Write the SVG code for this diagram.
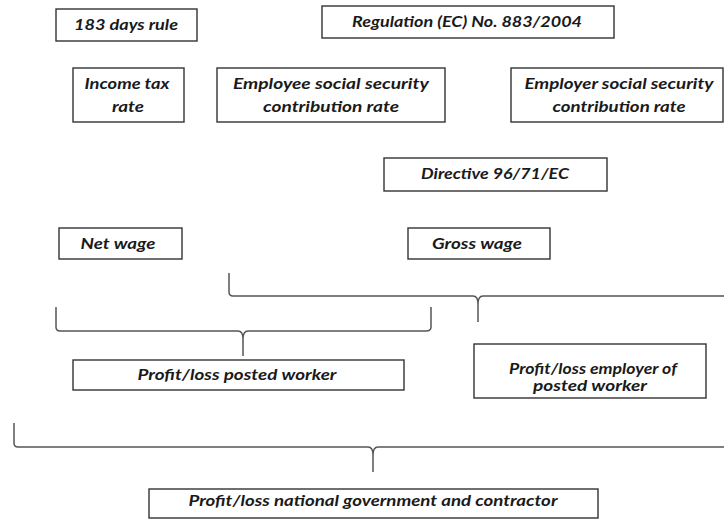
<svg xmlns="http://www.w3.org/2000/svg" width="724" height="519" viewBox="0 0 724 519">
<style>
.box{fill:#fff;stroke:#333;stroke-width:1.4}
.t{font-family:Lato,"Noto Sans","Liberation Sans",sans-serif;font-weight:bold;font-style:italic;font-size:15px;fill:#1a1a1a;text-anchor:middle}
.br{fill:none;stroke:#555;stroke-width:1.5}
</style>
<rect width="724" height="519" fill="#fff"/>
<g id="n183"><rect class="box" x="56" y="9" width="141" height="32"/><text class="t" x="126" y="30" textLength="104" lengthAdjust="spacingAndGlyphs">183 days rule</text></g>
<g id="regulation"><rect class="box" x="322" y="6" width="292" height="32"/><text class="t" x="467" y="27" textLength="230" lengthAdjust="spacingAndGlyphs">Regulation (EC) No. 883/2004</text></g>
<g id="income"><rect class="box" x="73" y="68" width="111" height="54"/><text class="t" x="127" y="89" textLength="85" lengthAdjust="spacingAndGlyphs">Income tax</text><text class="t" x="128" y="112" textLength="32" lengthAdjust="spacingAndGlyphs">rate</text></g>
<g id="employee"><rect class="box" x="217" y="68" width="228" height="54"/><text class="t" x="331" y="89" textLength="196" lengthAdjust="spacingAndGlyphs">Employee social security</text><text class="t" x="331" y="112" textLength="136" lengthAdjust="spacingAndGlyphs">contribution rate</text></g>
<g id="employer"><rect class="box" x="511" y="68" width="212" height="54"/><text class="t" x="619" y="89" textLength="189" lengthAdjust="spacingAndGlyphs">Employer social security</text><text class="t" x="619" y="112" textLength="133" lengthAdjust="spacingAndGlyphs">contribution  rate</text></g>
<g id="directive"><rect class="box" x="384" y="158" width="223" height="33"/><text class="t" x="495" y="179" textLength="148" lengthAdjust="spacingAndGlyphs">Directive 96/71/EC</text></g>
<g id="net"><rect class="box" x="59" y="228" width="123" height="31"/><text class="t" x="118" y="249" textLength="75" lengthAdjust="spacingAndGlyphs">Net wage</text></g>
<g id="gross"><rect class="box" x="408" y="228" width="142" height="31"/><text class="t" x="477" y="249" textLength="90" lengthAdjust="spacingAndGlyphs">Gross wage</text></g>
<g id="worker"><rect class="box" x="73" y="360" width="331" height="30"/><text class="t" x="237" y="380" textLength="199" lengthAdjust="spacingAndGlyphs">Profit/loss  posted worker</text></g>
<g id="employerpl"><rect class="box" x="474" y="344" width="232" height="54"/><text class="t" x="593" y="374" textLength="168" lengthAdjust="spacingAndGlyphs">Profit/loss  employer of</text><text class="t" x="590" y="391" textLength="114" lengthAdjust="spacingAndGlyphs">posted worker</text></g>
<g id="national"><rect class="box" x="149" y="489" width="449" height="29"/><text class="t" x="373" y="506" textLength="369" lengthAdjust="spacingAndGlyphs">Profit/loss national government and contractor</text></g>
<g id="connectors">
<path class="br" d="M229,273 V292 Q229,296 233,296 H473 Q478,296 478,304 V322 M478,304 Q478,296 483,296 H724"/>
<path class="br" d="M56,307 V327 Q56,331 60,331 H238 Q243,331 243,339 V356 M243,339 Q243,331 248,331 H426 Q431,331 431,327 V307"/>
<path class="br" d="M14,423 V443 Q14,447 18,447 H368 Q373,447 373,455 V472 M373,455 Q373,447 378,447 H724"/>
</g>
</svg>
